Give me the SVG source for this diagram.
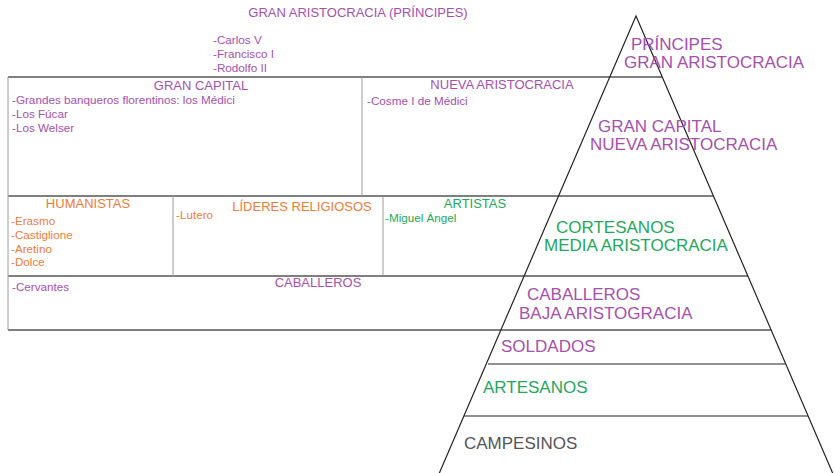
<svg xmlns="http://www.w3.org/2000/svg" width="834" height="473" viewBox="0 0 834 473">
<style>
text{font-family:"Liberation Sans",Arial,sans-serif}
.h{font-size:13px}
.s{font-size:11.7px}
.p{font-size:17px}
.pu{fill:#a64fae}
.or{fill:#f07b35}
.gr{fill:#1fa85a}
.gy{fill:#555}
.tl{stroke:#555;stroke-width:1.5;fill:none}
.tv{stroke:#9a9a9a;stroke-width:1;fill:none}
.py{stroke:#222;stroke-width:1.2;fill:none}
</style>
<rect width="834" height="473" fill="#fff"/>
<g id="connectors">
<path class="tl" d="M8 77H662M8 196H713M8 276H748M8 330H771"/>
<path class="tv" d="M8 77V330M362 77V196M173 196V276M383 196V276"/>
<path class="py" d="M488 364H785M464 416H808"/>
<path class="py" d="M435.5 482L636 16L836.5 482"/>
</g>
<g id="top">
<text class="h pu" x="358" y="17" text-anchor="middle">GRAN ARISTOCRACIA (PRÍNCIPES)</text>
<text class="s pu" x="213" y="44">-Carlos V</text>
<text class="s pu" x="213" y="58">-Francisco I</text>
<text class="s pu" x="213" y="72">-Rodolfo II</text>
</g>
<g id="gran-capital">
<text class="h pu" x="201" y="90" text-anchor="middle">GRAN CAPITAL</text>
<text class="s pu" x="12" y="104">-Grandes banqueros florentinos: los Médici</text>
<text class="s pu" x="12" y="118">-Los Fúcar</text>
<text class="s pu" x="12" y="132">-Los Welser</text>
</g>
<g id="nueva-aristocracia">
<text class="h pu" x="502" y="89" text-anchor="middle">NUEVA ARISTOCRACIA</text>
<text class="s pu" x="367" y="105">-Cosme I de Médici</text>
</g>
<g id="humanistas">
<text class="h or" x="88" y="208" text-anchor="middle">HUMANISTAS</text>
<text class="s or" x="11" y="225">-Erasmo</text>
<text class="s or" x="11" y="239">-Castiglione</text>
<text class="s or" x="11" y="253">-Aretino</text>
<text class="s or" x="11" y="266">-Dolce</text>
</g>
<g id="lideres">
<text class="h or" x="302" y="211" text-anchor="middle">LÍDERES RELIGIOSOS</text>
<text class="s or" x="176" y="219">-Lutero</text>
</g>
<g id="artistas">
<text class="h gr" x="475" y="208" text-anchor="middle">ARTISTAS</text>
<text class="s gr" x="385" y="222">-Miguel Ángel</text>
</g>
<g id="caballeros">
<text class="h pu" x="318" y="287" text-anchor="middle">CABALLEROS</text>
<text class="s pu" x="12" y="291">-Cervantes</text>
</g>
<g id="pyramid">
<text class="p pu" x="631" y="50">PRÍNCIPES</text>
<text class="p pu" x="624" y="68">GRAN ARISTOCRACIA</text>
<text class="p pu" x="598" y="132">GRAN CAPITAL</text>
<text class="p pu" x="590" y="150">NUEVA ARISTOCRACIA</text>
<text class="p gr" x="556" y="233">CORTESANOS</text>
<text class="p gr" x="544" y="251">MEDIA ARISTOCRACIA</text>
<text class="p pu" x="527" y="300">CABALLEROS</text>
<text class="p pu" x="519" y="319">BAJA ARISTOGRACIA</text>
<text class="p pu" x="501" y="352">SOLDADOS</text>
<text class="p gr" x="483" y="393">ARTESANOS</text>
<text class="p gy" x="464" y="449">CAMPESINOS</text>
</g>
</svg>
